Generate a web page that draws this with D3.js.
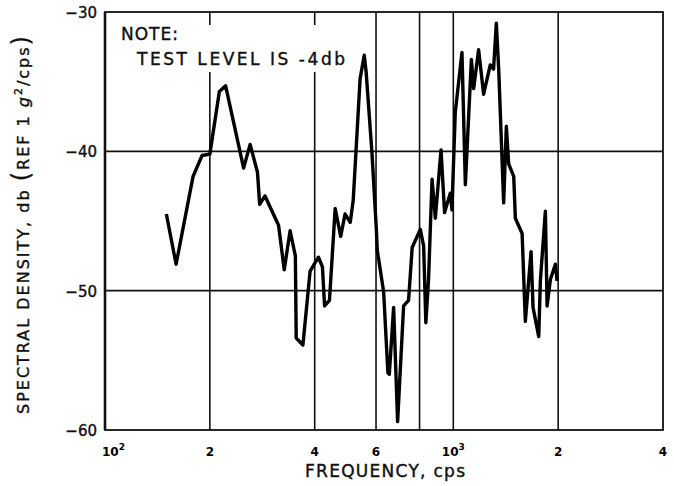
<!DOCTYPE html>
<html>
<head>
<meta charset="utf-8">
<script src="https://cdn.jsdelivr.net/npm/d3@7"></script>
<style>
    body { margin: 0; background: #fff; }
    svg { display: block; font-family: 'DejaVu Sans', sans-serif; }
    .lbl { fill: #111; stroke: #111; stroke-width: 0.4; }
</style>
</head>
<body>
<svg id="chart" width="674" height="486"></svg>
<script>
    'use strict';

    // frequency (cps) and spectral density (db)
    const freq = [150, 160, 179, 190, 200, 213, 222, 250, 261, 274, 278, 288, 315, 327, 340, 352,
        354, 370, 388, 410, 421, 427, 441, 458, 475, 489, 506, 516, 540, 555, 562, 584, 601, 605,
        631, 649, 655, 674, 692, 720, 744, 762, 804, 822, 834, 849, 869, 888, 922, 944, 980, 991,
        1013, 1059, 1083, 1127, 1144, 1182, 1222, 1277, 1305, 1329, 1350, 1395, 1420, 1442, 1491,
        1507, 1576, 1610, 1672, 1694, 1759, 1778, 1838, 1859, 1900, 1964, 1986];
    const density = [-44.5, -48.1, -41.8, -40.3, -40.2, -35.7, -35.3, -41.2, -39.5, -41.5, -43.8,
        -43.2, -45.3, -48.5, -45.7, -47.5, -53.4, -53.9, -48.6, -47.6, -48.3, -51.1, -50.7, -44.1,
        -46.1, -44.5, -45.1, -43.5, -34.8, -33.1, -34.3, -40.1, -45.5, -47.1, -50.1, -55.9, -56.0,
        -51.2, -59.4, -51.1, -50.7, -46.9, -45.6, -46.8, -52.3, -49.2, -42.0, -44.8, -39.9, -44.4,
        -43.0, -44.2, -37.2, -32.9, -42.4, -33.4, -35.5, -32.7, -35.9, -33.8, -34.1, -30.8, -34.1,
        -43.7, -38.2, -40.9, -41.8, -44.8, -45.9, -52.2, -47.2, -51.2, -53.3, -49.3, -44.3, -51.1,
        -49.2, -48.1, -49.3];

    const xGrid = [200, 400, 600, 800, 1000, 2000];
    const yGrid = [-40, -50];
    const xTicks = [100, 200, 400, 600, 1000, 2000, 4000];
    const xTickLabels = [['10', '2'], ['2'], ['4'], ['6'], ['10', '3'], ['2'], ['4']];
    const yTicks = [-30, -40, -50, -60];

    const svg = d3.select('#chart');
    const x = d3.scaleLog().domain([100, 4000]).range([105, 663]);
    const y = d3.scaleLinear().domain([-60, -30]).range([430, 12]);

    // grid
    svg.append('g')
        .selectAll('line')
        .data(xGrid)
        .join('line')
            .attr('x1', d => x(d)).attr('x2', d => x(d))
            .attr('y1', y(-30)).attr('y2', y(-60))
            .attr('stroke', '#111').attr('stroke-width', 1.6);

    svg.append('g')
        .selectAll('line')
        .data(yGrid)
        .join('line')
            .attr('x1', x(100)).attr('x2', x(4000))
            .attr('y1', d => y(d)).attr('y2', d => y(d))
            .attr('stroke', '#111').attr('stroke-width', 1.6);

    // frame
    svg.append('rect')
        .attr('x', x(100)).attr('y', y(-30))
        .attr('width', x(4000) - x(100)).attr('height', y(-60) - y(-30))
        .attr('fill', 'none').attr('stroke', '#111').attr('stroke-width', 1.8);
    svg.append('line')
        .attr('x1', x(100)).attr('x2', x(100))
        .attr('y1', y(-30)).attr('y2', y(-60))
        .attr('stroke', '#111').attr('stroke-width', 2.6);

    // note box over the grid
    svg.append('rect')
        .attr('x', 115).attr('y', 25).attr('width', 240).attr('height', 47)
        .attr('fill', '#fff');
    svg.append('text')
        .attr('class', 'lbl')
        .attr('x', 121).attr('y', 40)
        .attr('font-size', 17).attr('textLength', 57)
        .text('NOTE:');
    svg.append('text')
        .attr('class', 'lbl')
        .attr('x', 137).attr('y', 65)
        .attr('font-size', 17).attr('textLength', 208)
        .text('TEST LEVEL IS -4db');

    // data line
    const data = freq.map((f, i) => ({ f: f, db: density[i] }));
    const line = d3.line()
        .x(d => x(d.f))
        .y(d => y(d.db));
    svg.append('path')
        .datum(data)
        .attr('d', line)
        .attr('fill', 'none')
        .attr('stroke', '#000')
        .attr('stroke-width', 3.4)
        .attr('stroke-linejoin', 'round');

    // y tick labels
    svg.append('g')
        .selectAll('text')
        .data(yTicks)
        .join('text')
            .attr('class', 'lbl')
            .attr('x', 97).attr('y', d => y(d) + 6)
            .attr('text-anchor', 'end')
            .attr('font-size', 15)
            .text(d => '\u2212' + Math.abs(d));

    // x tick labels (first one sits just right of the axis)
    const xl = svg.append('g')
        .selectAll('text')
        .data(xTicks)
        .join('text')
            .attr('x', (d, i) => i === 0 ? x(d) - 3 : x(d))
            .attr('y', 456)
            .attr('text-anchor', (d, i) => i === 0 ? 'start' : 'middle')
            .attr('font-size', 12)
            .attr('font-weight', 'bold');
    xl.append('tspan').text((d, i) => xTickLabels[i][0]);
    xl.append('tspan')
        .attr('dy', -6).attr('font-size', 9)
        .text((d, i) => xTickLabels[i][1] || '');

    // axis titles
    svg.append('text')
        .attr('class', 'lbl')
        .attr('x', 385).attr('y', 477)
        .attr('text-anchor', 'middle')
        .attr('font-size', 17).attr('textLength', 160)
        .text('FREQUENCY, cps');

    const yt = svg.append('text')
        .attr('class', 'lbl')
        .attr('transform', 'translate(29, 225) rotate(-90)')
        .attr('text-anchor', 'middle')
        .attr('font-size', 16)
        .attr('textLength', 378);
    yt.append('tspan').text('SPECTRAL  DENSITY, db ');
    yt.append('tspan').attr('font-size', 24).attr('stroke-width', 0.2).text('(');
    yt.append('tspan').text('REF 1 ');
    yt.append('tspan').attr('font-style', 'italic').text('g');
    yt.append('tspan').attr('dy', -7).attr('font-size', 11).text('2');
    yt.append('tspan').attr('dy', 7).text('/cps');
    yt.append('tspan').attr('font-size', 24).attr('stroke-width', 0.2).text(')');
</script>
</body>
</html>
